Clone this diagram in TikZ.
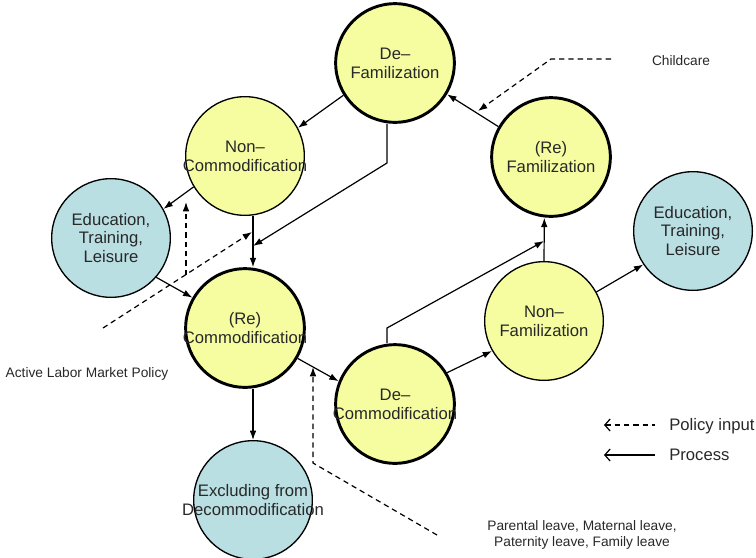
\documentclass[tikz,border=0pt]{standalone}
\usepackage{fontspec}
\setmainfont{Liberation Sans}
\usepackage{xcolor}
\usetikzlibrary{arrows.meta,calc}

\definecolor{yellowfill}{RGB}{245,253,160}
\definecolor{bluefill}{RGB}{185,223,227}
\definecolor{textgray}{RGB}{40,40,40}

% circle text that does not widen the circle
\newcommand{\circtxt}[1]{\smash{\makebox[0pt]{\raisebox{-4.5pt}{\begin{tabular}{@{}c@{}}#1\end{tabular}}}}}

\begin{document}
\begin{tikzpicture}[x=0.75pt, y=-0.75pt,
    circ/.style={circle, draw=black, minimum size=89pt, inner sep=0pt, text=textgray, font=\fontsize{12.5}{14}\selectfont},
    yelbold/.style={circ, line width=2.2pt, fill=yellowfill},
    yelthin/.style={circ, line width=1pt, fill=yellowfill},
    bluethin/.style={circ, line width=1pt, fill=bluefill},
    arrow/.style={-{Latex[length=7pt,width=5pt]}, line width=0.9pt},
    policy/.style={arrow, dash pattern=on 4pt off 3pt},
    legarrow/.style={{Straight Barb[length=4pt,width=9pt]}-, line width=0.9pt},
    note/.style={font=\fontsize{10.3}{12.5}\selectfont, text=textgray, align=center, inner sep=0pt},
    legtext/.style={font=\fontsize{12.5}{14}\selectfont, text=textgray, anchor=west, inner sep=0pt}
]
\useasboundingbox (0,0) rectangle (756,557);

% Familization side
\node[yelbold] (defam) at (395,63) {\circtxt{De–\\Familization}};
\node[yelbold] (refam) at (551,157) {\circtxt{(Re)\\Familization}};
\node[yelthin] (nonfam) at (544,321) {\circtxt{Non–\\Familization}};
\node[bluethin] (eduright) at (693,231) {\circtxt{Education,\\Training,\\Leisure}};

% Commodification side
\node[yelthin] (noncom) at (245,156) {\circtxt{Non–\\Commodification}};
\node[bluethin] (eduleft) at (111,238) {\circtxt{Education,\\Training,\\Leisure}};
\node[yelbold] (recom) at (245,328) {\circtxt{(Re)\\Commodification}};
\node[yelbold] (decom) at (395,404) {\circtxt{De–\\Commodification}};
\node[bluethin] (exclude) at (253,500) {\circtxt{Excluding from\\Decommodification}};

% Policy labels
\node[note] (childcare) at (681,61) {Childcare};
\node[note] (almp) at (87,374) {Active Labor Market Policy};
\node[note] (leave) at (582,535) {Parental leave, Maternal leave,\\Paternity leave, Family leave};

% Bend points
\coordinate (bendA) at (387,163);
\coordinate (hitA) at (253,246);
\coordinate (bendB) at (387,328);
\coordinate (hitB) at (544,241);
\coordinate (ccA) at (611,59);
\coordinate (ccB) at (551,59);
\coordinate (ccTip) at (478,111);
\coordinate (almpA) at (103,328);
\coordinate (almpTip) at (252,232);
\coordinate (almpC) at (186,275);
\coordinate (almpD) at (186,202);
\coordinate (lvA) at (437,535);
\coordinate (lvB) at (313,463);
\coordinate (lvTip) at (313,367);

% Process arrows
\draw[arrow] (defam.212) -- (noncom.28);
\draw[arrow] (noncom.211) -- (eduleft.29);
\draw[arrow] ([xshift=6pt]noncom.south) -- ([xshift=6pt]recom.north);
\draw[arrow] ([xshift=-6pt]defam.south) -- (bendA) -- (hitA);
\draw[arrow] (eduleft.319) -- (recom.150);
\draw[arrow] ([xshift=6pt]recom.south) -- (exclude.north);
\draw[arrow] (recom.330) -- (decom.158);
\draw[arrow] (decom.31) -- (nonfam.210);
\draw[arrow] ([xshift=-6pt]decom.north) -- (bendB) -- (hitB);
\draw[arrow] (nonfam.north) -- ([xshift=-5pt]refam.south);
\draw[arrow] (refam.150) -- (defam.329);
\draw[arrow] (nonfam.29) -- (eduright.214);

% Policy inputs
\draw[policy] (ccA) -- (ccB) -- (ccTip);
\draw[policy] (almpA) -- (almpTip);
\draw[policy] (almpC) -- (almpD);
\draw[policy] (lvA) -- (lvB) -- (lvTip);

% Legend
\node[legtext] (polinput) at (669,426) {Policy input};
\node[legtext] (process) at (669,455) {Process};
\coordinate (legA) at (604,425);
\coordinate (legB) at (655,425);
\coordinate (legC) at (604,455);
\coordinate (legD) at (655,455);
\draw[legarrow, dash pattern=on 4pt off 3pt] (legA) -- (legB);
\draw[legarrow] (legC) -- (legD);

\end{tikzpicture}
\end{document}
